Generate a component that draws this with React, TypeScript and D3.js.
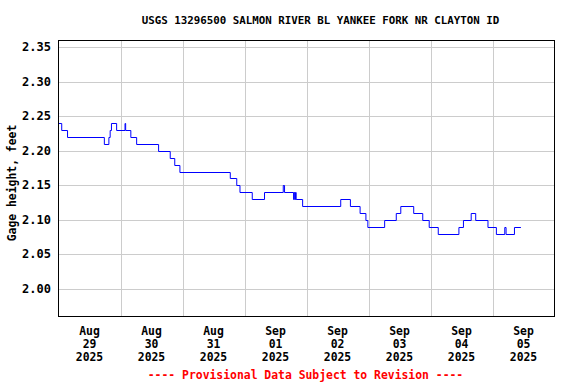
import { useEffect, useRef } from 'react';
import * as d3 from 'd3';

// gage height change points (UTC-like clock times, value holds until next one)
const stepTimes = [
  '2025-08-29 00:00', '2025-08-29 01:15', '2025-08-29 03:30', '2025-08-29 17:45',
  '2025-08-29 19:30', '2025-08-29 20:00', '2025-08-29 20:30', '2025-08-29 22:30',
  '2025-08-30 01:45', '2025-08-30 02:00', '2025-08-30 04:00', '2025-08-30 06:15',
  '2025-08-30 14:45', '2025-08-30 19:15', '2025-08-30 21:00', '2025-08-30 23:00',
  '2025-08-31 18:30', '2025-08-31 21:00', '2025-08-31 22:15', '2025-09-01 03:00',
  '2025-09-01 07:45', '2025-09-01 15:00', '2025-09-01 15:30', '2025-09-01 19:00',
  '2025-09-01 19:15', '2025-09-01 19:30', '2025-09-01 19:45', '2025-09-01 20:00',
  '2025-09-01 22:30', '2025-09-02 13:15', '2025-09-02 17:00', '2025-09-02 20:45',
  '2025-09-02 23:00', '2025-09-02 23:45', '2025-09-03 06:15', '2025-09-03 10:45',
  '2025-09-03 12:30', '2025-09-03 17:30', '2025-09-03 21:00', '2025-09-03 23:30',
  '2025-09-04 03:00', '2025-09-04 11:00', '2025-09-04 12:45', '2025-09-04 15:45',
  '2025-09-04 17:30', '2025-09-04 22:15', '2025-09-05 01:30', '2025-09-05 04:45',
  '2025-09-05 05:15', '2025-09-05 08:30', '2025-09-05 11:00',
];
const stepValues = [
  2.24, 2.23, 2.22, 2.21,
  2.22, 2.23, 2.24, 2.23,
  2.24, 2.23, 2.22, 2.21,
  2.20, 2.19, 2.18, 2.17,
  2.16, 2.15, 2.14, 2.13,
  2.14, 2.15, 2.14, 2.13,
  2.14, 2.13, 2.14, 2.13,
  2.12, 2.13, 2.12, 2.11,
  2.10, 2.09, 2.10, 2.11,
  2.12, 2.11, 2.10, 2.09,
  2.08, 2.09, 2.10, 2.11,
  2.10, 2.09, 2.08, 2.09,
  2.08, 2.09, 2.09,
];
const yTicks = [2.0, 2.05, 2.1, 2.15, 2.2, 2.25, 2.3, 2.35];
const dayTicks = ['2025-08-29', '2025-08-30', '2025-08-31', '2025-09-01',
  '2025-09-02', '2025-09-03', '2025-09-04', '2025-09-05', '2025-09-06'];

const title = 'USGS 13296500 SALMON RIVER BL YANKEE FORK NR CLAYTON ID';
const yLabel = 'Gage height, feet';
const footer = '---- Provisional Data Subject to Revision ----';

const W = 576, H = 384;
const FONT = '"DejaVu Sans Mono", monospace';

export default function App() {
  const svgRef = useRef<SVGSVGElement>(null);

  useEffect(() => {
    const svg = d3.select(svgRef.current);
    svg.selectAll('*').remove();

    const left = 58.5, right = 554.5, top = 40.5, bottom = 316.5;
    const parseT = d3.utcParse('%Y-%m-%d %H:%M');
    const parseD = d3.utcParse('%Y-%m-%d');
    const days = dayTicks.map((d) => parseD(d) as Date);

    const x = d3.scaleUtc().domain([days[0], days[days.length - 1]]).range([left, right]);
    const y = d3.scaleLinear().domain([1.96, 2.36]).range([bottom, top]);

    const g = svg.append('g');

    // grid
    g.selectAll('line.hg')
      .data(yTicks)
      .join('line')
      .attr('x1', left).attr('x2', right)
      .attr('y1', (d) => Math.round(y(d)) + 0.5).attr('y2', (d) => Math.round(y(d)) + 0.5)
      .attr('stroke', '#cccccc');
    g.selectAll('line.vg')
      .data(days.slice(1, -1))
      .join('line')
      .attr('x1', (d) => Math.round(x(d)) + 0.5).attr('x2', (d) => Math.round(x(d)) + 0.5)
      .attr('y1', top).attr('y2', bottom)
      .attr('stroke', '#cccccc');

    // data line
    const pts = stepTimes.map((t, i) => [parseT(t) as Date, stepValues[i]] as [Date, number]);
    const line = d3.line<[Date, number]>()
      .x((d) => x(d[0]))
      .y((d) => Math.round(y(d[1])) + 0.5)
      .curve(d3.curveStepAfter);
    g.append('path')
      .attr('d', line(pts))
      .attr('fill', 'none')
      .attr('stroke', '#0000ff')
      .attr('stroke-width', 1);

    // frame
    g.append('rect')
      .attr('x', left).attr('y', top)
      .attr('width', right - left).attr('height', bottom - top)
      .attr('fill', 'none').attr('stroke', '#000');

    // y tick labels
    g.selectAll('text.yt')
      .data(yTicks)
      .join('text')
      .attr('x', 51)
      .attr('y', (d) => y(d) + 4)
      .attr('text-anchor', 'end')
      .attr('font-family', FONT).attr('font-weight', 'bold').attr('font-size', 12)
      .text((d) => d3.format('.2f')(d));

    // x tick labels at noon
    const fmts = [d3.utcFormat('%b'), d3.utcFormat('%d'), d3.utcFormat('%Y')];
    const lab = g.selectAll('text.xt')
      .data(days.slice(0, -1))
      .join('text')
      .attr('text-anchor', 'middle')
      .attr('font-family', FONT).attr('font-weight', 'bold').attr('font-size', 11.4);
    lab.selectAll('tspan')
      .data((d) => fmts.map((f) => ({ d, s: f(d) })))
      .join('tspan')
      .attr('x', (o) => x(d3.utcHour.offset(o.d, 12)))
      .attr('y', (_o, i) => 334.5 + i * 13)
      .text((o) => o.s);

    // titles
    svg.append('text')
      .attr('x', 320.5).attr('y', 24)
      .attr('text-anchor', 'middle')
      .attr('font-family', FONT).attr('font-weight', 'bold').attr('font-size', 10.8)
      .text(title);
    svg.append('text')
      .attr('transform', 'translate(16,183) rotate(-90)')
      .attr('text-anchor', 'middle')
      .attr('font-family', FONT).attr('font-weight', 'bold').attr('font-size', 11.4)
      .text(yLabel);
    svg.append('text')
      .attr('x', 305.5).attr('y', 379)
      .attr('text-anchor', 'middle')
      .attr('font-family', FONT).attr('font-weight', 'bold').attr('font-size', 11.4)
      .attr('fill', '#ff0000')
      .text(footer);
  }, []);

  return (
    <svg
      ref={svgRef}
      width={W}
      height={H}
      style={{ position: 'absolute', left: 0, top: 0, background: '#fff' }}
    />
  );
}
